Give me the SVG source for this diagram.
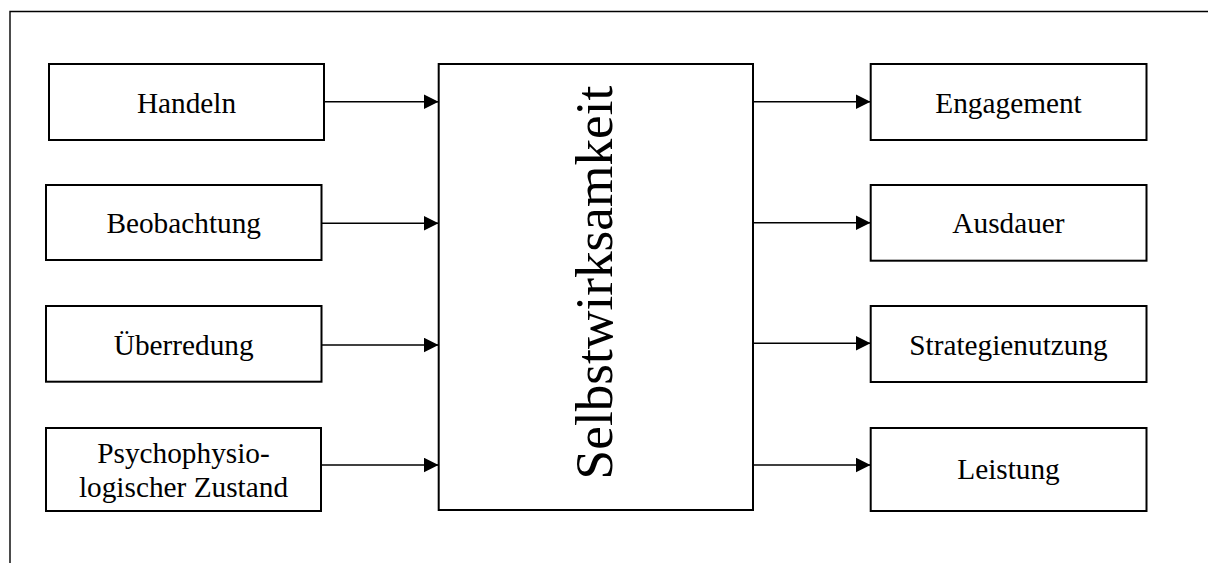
<svg xmlns="http://www.w3.org/2000/svg" width="1208" height="563" viewBox="0 0 1208 563">
<style>
.box{fill:#fff;stroke:#000;stroke-width:2}
.lbl{font-size:29.3px;fill:#000;text-anchor:middle}
.big{font-size:53.3px;fill:#000;text-anchor:middle}
.con{stroke:#000;stroke-width:1.5;fill:none}
</style>
<defs>
<marker id="ah" markerUnits="userSpaceOnUse" markerWidth="15" markerHeight="15" refX="15" refY="7.5" orient="auto">
<path d="M0,0 L15,7.5 L0,15 Z" fill="#000"/>
</marker>
</defs>
<rect width="1208" height="563" fill="#fff"/>
<path d="M10,563 V11.5 H1208" fill="none" stroke="#000" stroke-width="1.4"/>
<g id="connectors">
<line class="con" x1="320" y1="101.7" x2="438.5" y2="101.7" marker-end="url(#ah)"/>
<line class="con" x1="321.5" y1="223.3" x2="438.5" y2="223.3" marker-end="url(#ah)"/>
<line class="con" x1="321.5" y1="345" x2="438.5" y2="345" marker-end="url(#ah)"/>
<line class="con" x1="321.5" y1="465" x2="438.5" y2="465" marker-end="url(#ah)"/>
<line class="con" x1="753" y1="101.7" x2="870.5" y2="101.7" marker-end="url(#ah)"/>
<line class="con" x1="753" y1="222.7" x2="870.5" y2="222.7" marker-end="url(#ah)"/>
<line class="con" x1="753" y1="343.3" x2="870.5" y2="343.3" marker-end="url(#ah)"/>
<line class="con" x1="753" y1="465" x2="870.5" y2="465" marker-end="url(#ah)"/>
</g>
<g font-family="'Liberation Serif', 'Times New Roman', Times, serif">
<g id="handeln">
<rect class="box" x="49" y="64" width="275" height="76"/>
<text class="lbl" x="186.5" y="113">Handeln</text>
</g>
<g id="beobachtung">
<rect class="box" x="46" y="185" width="275.5" height="75"/>
<text class="lbl" x="183.7" y="233.3">Beobachtung</text>
</g>
<g id="ueberredung">
<rect class="box" x="46" y="306" width="275.5" height="75.7"/>
<text class="lbl" x="183.7" y="354.5">Überredung</text>
</g>
<g id="psychophysiologisch">
<rect class="box" x="46" y="428" width="275" height="83"/>
<text class="lbl" x="183.5" y="463">Psychophysio-</text>
<text class="lbl" x="183.5" y="497">logischer Zustand</text>
</g>
<g id="selbstwirksamkeit">
<rect class="box" x="438.7" y="64" width="314.3" height="446"/>
<text class="big" transform="translate(612,282.5) rotate(-90)">Selbstwirksamkeit</text>
</g>
<g id="engagement">
<rect class="box" x="870.7" y="64" width="275.8" height="76"/>
<text class="lbl" x="1008.5" y="112.7">Engagement</text>
</g>
<g id="ausdauer">
<rect class="box" x="870.7" y="185" width="275.8" height="75.7"/>
<text class="lbl" x="1008.5" y="233.3">Ausdauer</text>
</g>
<g id="strategienutzung">
<rect class="box" x="870.7" y="306" width="275.8" height="76"/>
<text class="lbl" x="1008.5" y="354.5">Strategienutzung</text>
</g>
<g id="leistung">
<rect class="box" x="870.7" y="428" width="275.8" height="83"/>
<text class="lbl" x="1008.5" y="478.5">Leistung</text>
</g>
</g>
</svg>
